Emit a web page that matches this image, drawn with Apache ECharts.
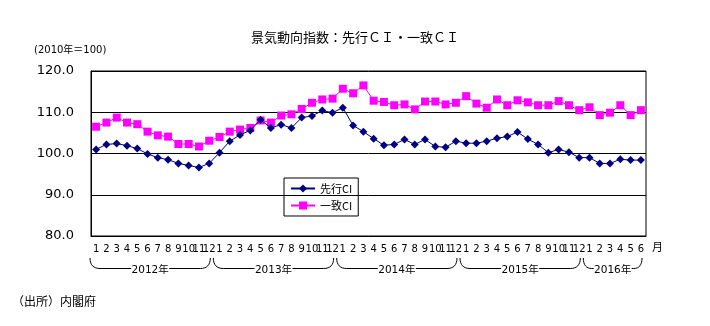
<!DOCTYPE html>
<html><head><meta charset="utf-8">
<script src="https://cdn.jsdelivr.net/npm/echarts@6/dist/echarts.min.js"></script>
<style>html,body{margin:0;padding:0;background:#fff}#c{width:710px;height:326px}</style>
</head><body><div id="c"></div>
<script>
const months = ['1','2','3','4','5','6','7','8','9','10','11','12',
 '1','2','3','4','5','6','7','8','9','10','11','12',
 '1','2','3','4','5','6','7','8','9','10','11','12',
 '1','2','3','4','5','6','7','8','9','10','11','12',
 '1','2','3','4','5','6'];
const years = ['2012年','2013年','2014年','2015年','2016年'];
const yearLengths = [12,12,12,12,6];
const leading = [101.0,102.2,102.4,101.9,101.2,99.9,99.0,98.5,97.6,97.1,96.6,97.6,
 100.2,103.0,104.5,105.6,108.2,106.2,107.0,106.2,108.7,109.1,110.4,109.9,
 111.1,106.8,105.3,103.6,102.0,102.2,103.4,102.2,103.4,101.7,101.5,103.0,
 102.5,102.5,103.0,103.7,104.1,105.2,103.5,102.2,100.2,101.0,100.3,99.0,
 99.0,97.6,97.6,98.6,98.4,98.4];
const coincident = [106.5,107.5,108.7,107.5,107.1,105.3,104.4,104.1,102.3,102.3,101.7,103.1,
 104.0,105.3,105.8,106.2,108.0,107.5,109.2,109.5,110.8,112.3,113.1,113.3,
 115.7,114.6,116.5,112.8,112.5,111.7,111.9,110.7,112.6,112.6,111.9,112.3,
 113.9,112.1,111.1,113.1,111.7,112.9,112.4,111.7,111.7,112.7,111.7,110.5,
 111.2,109.3,109.9,111.7,109.3,110.5];

const chart = echarts.init(document.getElementById('c'));
const txtFont = 'DejaVu Sans, Noto Sans CJK JP, sans-serif';
const cjk = 'Noto Sans CJK JP, sans-serif';
chart.setOption({
  animation:false,
  backgroundColor:'#fff',
  title:{text:'景気動向指数：先行ＣＩ・一致ＣＩ', left:246, top:26,
    textStyle:{fontSize:13, fontWeight:'normal', color:'#000', fontFamily:cjk}},
  grid:{left:91, right:64, top:71, bottom:90, show:true, borderColor:'#000', borderWidth:1},
  legend:{orient:'vertical', left:284, top:178, width:74, height:36,
    borderColor:'#000', borderWidth:1, padding:[5,6,5,6], itemGap:6,
    itemWidth:24, itemHeight:10,
    textStyle:{fontSize:11, color:'#000', fontFamily:cjk},
    data:['先行CI','一致CI']},
  xAxis:{type:'category', data:months, boundaryGap:true,
    axisLine:{lineStyle:{color:'#000', width:1}},
    axisTick:{inside:true, length:4, lineStyle:{color:'#000'}},
    axisLabel:{interval:0, fontSize:10, color:'#000', margin:8, fontFamily:txtFont}},
  yAxis:{type:'value', min:80, max:120, interval:10,
    axisLine:{show:true, lineStyle:{color:'#000'}},
    axisTick:{show:false},
    splitLine:{lineStyle:{color:'#000', width:1}},
    axisLabel:{formatter:v=>v.toFixed(1), fontSize:13, color:'#000', margin:17, fontFamily:txtFont}},
  series:[
    {name:'先行CI', type:'line', data:leading, symbol:'diamond', symbolSize:8,
      itemStyle:{color:'#000080'}, lineStyle:{color:'#000080', width:1}, z:3},
    {name:'一致CI', type:'line', data:coincident, symbol:'rect', symbolSize:8,
      itemStyle:{color:'#FF00FF'}, lineStyle:{color:'#FF00FF', width:1}, z:2}
  ]
});

// braces under year groups, positioned from axis scale
const c0 = chart.convertToPixel({xAxisIndex:0}, 0);
const c1 = chart.convertToPixel({xAxisIndex:0}, 1);
const band = c1 - c0;
const graphics = [];
let start = 0;
const yTop = 258, yBot = 268.5;
const st = {stroke:'#000', lineWidth:1, fill:null};
years.forEach((y, i) => {
  const n = yearLengths[i];
  const x0 = chart.convertToPixel({xAxisIndex:0}, start) - band/2 - 1;
  const x1 = chart.convertToPixel({xAxisIndex:0}, start + n - 1) + band/2 - 4;
  const xm = (x0 + x1)/2;
  const gap = 19;
  const r = Math.min(10, (x1 - x0)/2 - gap - 2);
  graphics.push({type:'bezierCurve', shape:{x1:x0, y1:yTop, cpx1:x0, cpy1:yTop+7, cpx2:x0+r*0.35, cpy2:yBot, x2:x0+r, y2:yBot}, style:st});
  graphics.push({type:'line', shape:{x1:x0+r, y1:yBot, x2:xm-gap, y2:yBot}, style:st});
  graphics.push({type:'line', shape:{x1:xm+gap, y1:yBot, x2:x1-r, y2:yBot}, style:st});
  graphics.push({type:'bezierCurve', shape:{x1:x1-r, y1:yBot, cpx1:x1-r*0.35, cpy1:yBot, cpx2:x1, cpy2:yTop+7, x2:x1, y2:yTop}, style:st});
  graphics.push({type:'text', x:xm, y:yBot+2, style:{text:y, fill:'#000', font:'10.5px ' + txtFont,
    textAlign:'center', textVerticalAlign:'middle'}});
  start += n;
});
graphics.push({type:'text', x:34, y:50, style:{text:'(2010年＝100)', fill:'#000', font:'10px ' + txtFont, textVerticalAlign:'middle'}});
graphics.push({type:'text', x:652, y:247, style:{text:'月', fill:'#000', font:'11px ' + cjk, textVerticalAlign:'middle'}});
graphics.push({type:'text', x:12, y:301, style:{text:'（出所）内閣府', fill:'#000', font:'12px ' + cjk, textVerticalAlign:'middle'}});
chart.setOption({graphic:graphics});
</script></body></html>
